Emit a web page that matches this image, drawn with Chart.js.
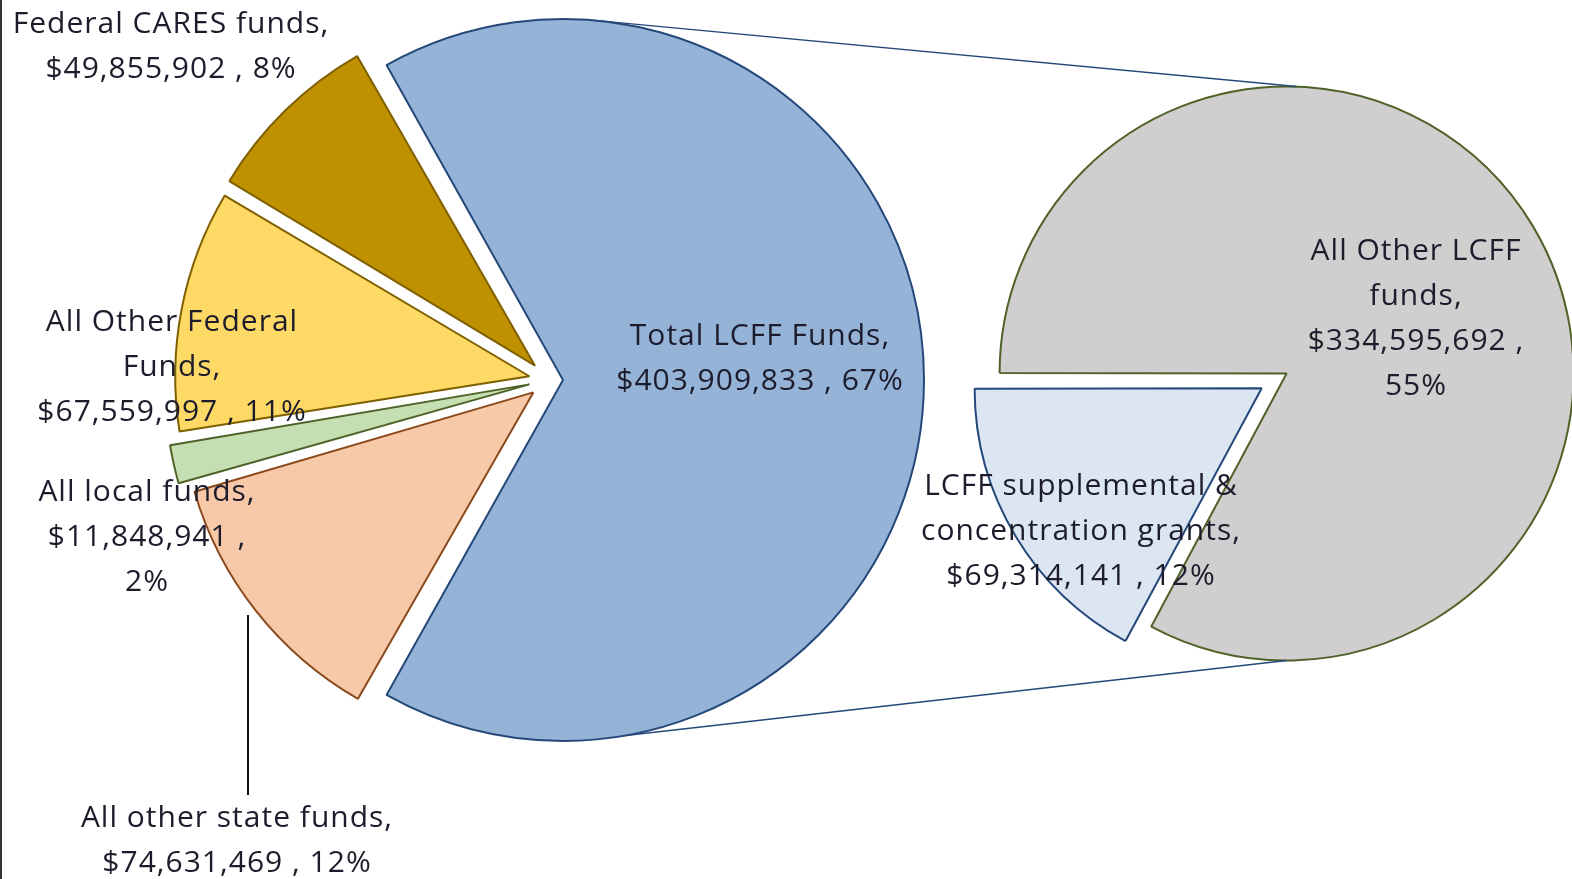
<!DOCTYPE html>
<html lang="en">
<head>
    <meta charset="UTF-8">
    <title>LCFF Funding Pie of Pie</title>
    <script src="https://cdn.jsdelivr.net/npm/chart.js"></script>
    <style>
        body {
            margin: 0;
            background: #ffffff;
            overflow: hidden;
            width: 1572px;
            height: 879px;
            position: relative;
        }
        .edge {
            position: absolute;
            left: 0;
            top: 0;
            width: 2px;
            height: 879px;
            background: #333;
        }
        canvas {
            position: absolute;
            left: 0;
            top: 0;
        }
    </style>
</head>
<body>
    <canvas id="mainPie" width="1572" height="879"></canvas>
    <canvas id="subPie" width="1800" height="879"></canvas>
    <div class="edge"></div>

    <script>
        // main pie: sources of funds
        const mainLabels = ['Total LCFF Funds', 'All other state funds', 'All local funds', 'All Other Federal Funds', 'Federal CARES funds'];
        const mainValues = [403909833, 74631469, 11848941, 67559997, 49855902];
        const mainPct = [67, 12, 2, 11, 8];
        const mainFill = ['#95B3D7', '#F8C9A8', '#C4DFB1', '#FFD966', '#BF9000'];
        const mainBorder = ['#25487A', '#8C4A1C', '#4F6228', '#7F6000', '#7F6000'];

        // second pie: breakdown of LCFF
        const subLabels = ['All Other LCFF funds', 'LCFF supplemental & concentration grants'];
        const subValues = [334595692, 69314141];
        const subPct = [55, 12];
        const subFill = ['#D0CECE', '#DCE6F2'];
        const subBorder = ['#4F6228', '#25487A'];

        // label text split into lines as in the original
        const mainLines = [
            ['Total LCFF Funds,', '$403,909,833 , 67%'],
            ['All other state funds,', '$74,631,469 , 12%'],
            ['All local funds,', '$11,848,941 ,', '2%'],
            ['All Other Federal', 'Funds,', '$67,559,997 , 11%'],
            ['Federal CARES funds,', '$49,855,902 , 8%']
        ];
        const subLines = [
            ['All Other LCFF', 'funds,', '$334,595,692 ,', '55%'],
            ['LCFF supplemental &', 'concentration grants,', '$69,314,141 , 12%']
        ];
        const mainLabelPos = [[760, 336], [237, 818], [147, 492], [172, 322], [171, 24]];
        const subLabelPos = [[1416, 251], [1081, 486]];

        // how far each slice is pulled out, in px (chart.js moves arcs by offset/4)
        const mainExplode = [14, 20, 20, 20, 20];
        const subExplode = [3, 26];

        const FONT = '30px "Open Sans", sans-serif';
        const LINE_H = 45;

        const sum = a => a.reduce((s, v) => s + v, 0);
        const lcffDeg = mainValues[0] / sum(mainValues) * 360;

        const mainChart = new Chart(document.getElementById('mainPie'), {
            type: 'pie',
            data: {
                labels: mainLabels,
                datasets: [{
                    data: mainValues,
                    backgroundColor: mainFill,
                    borderColor: mainBorder,
                    borderWidth: 2,
                    offset: mainExplode.map(v => v * 4),
                    clip: false
                }]
            },
            options: {
                responsive: false,
                animation: false,
                rotation: 90 - lcffDeg / 2,
                radius: 347,
                layout: { padding: { left: 169, right: 643, top: 0, bottom: 119 } },
                plugins: { legend: { display: false }, tooltip: { enabled: false } }
            }
        });

        // where an exploded arc really ends up on screen
        function shownArc(el, o) {
            const mid = (el.startAngle + el.endAngle) / 2;
            const fix = 1 - Math.sin(Math.min(Math.PI, el.circumference));
            return { x: el.x + Math.cos(mid) * o, y: el.y + Math.sin(mid) * o, r: el.outerRadius + o * fix };
        }

        function drawLines(ctx, lines, pos) {
            lines.forEach((ls, i) => {
                ls.forEach((t, j) => {
                    ctx.fillText(t, pos[i][0], pos[i][1] + j * LINE_H);
                });
            });
        }

        const overlay = {
            id: 'overlay',
            afterDraw(chart) {
                const ctx = chart.ctx;
                const lcff = shownArc(mainChart.getDatasetMeta(0).data[0], mainExplode[0]);
                const grey = shownArc(chart.getDatasetMeta(0).data[0], subExplode[0]);
                const pt = deg => [lcff.x + lcff.r * Math.cos(deg * Math.PI / 180), lcff.y + lcff.r * Math.sin(deg * Math.PI / 180)];

                ctx.save();
                // connector lines between the two pies
                ctx.strokeStyle = '#25487A';
                ctx.lineWidth = 1.5;
                const up = pt(-85), down = pt(80);
                ctx.beginPath();
                ctx.moveTo(up[0], up[1]);
                ctx.lineTo(grey.x + 10, grey.y - grey.r);
                ctx.moveTo(down[0], down[1]);
                ctx.lineTo(grey.x, grey.y + grey.r);
                ctx.stroke();

                // leader line for state funds
                ctx.strokeStyle = '#111';
                ctx.lineWidth = 2;
                ctx.beginPath();
                ctx.moveTo(248, 615);
                ctx.lineTo(248, 795);
                ctx.stroke();

                ctx.font = FONT;
                ctx.letterSpacing = '1px';
                ctx.fillStyle = '#1c1c2c';
                ctx.textAlign = 'center';
                ctx.textBaseline = 'middle';
                drawLines(ctx, mainLines, mainLabelPos);
                drawLines(ctx, subLines, subLabelPos);
                ctx.restore();
            }
        };

        new Chart(document.getElementById('subPie'), {
            type: 'pie',
            data: {
                labels: subLabels,
                datasets: [{
                    data: subValues,
                    backgroundColor: subFill,
                    borderColor: subBorder,
                    borderWidth: 2,
                    offset: subExplode.map(v => v * 4),
                    clip: false
                }]
            },
            options: {
                responsive: false,
                animation: false,
                rotation: 270,
                radius: 284,
                layout: { padding: { left: 964, right: 196, top: 55, bottom: 184 } },
                plugins: { legend: { display: false }, tooltip: { enabled: false } }
            },
            plugins: [overlay]
        });
    </script>
</body>
</html>
